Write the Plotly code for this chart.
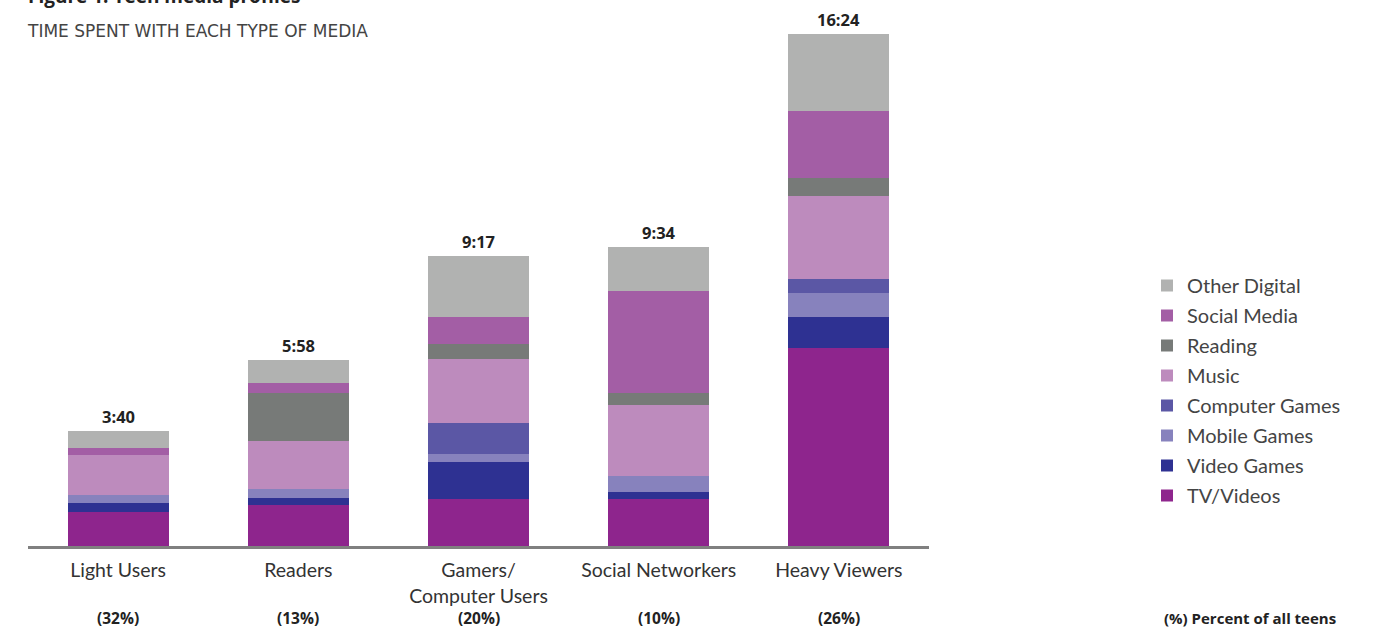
import plotly.graph_objects as go

categories = ["Light Users", "Readers", "Gamers/<br>Computer Users", "Social Networkers", "Heavy Viewers"]
percent_labels = ["(32%)", "(13%)", "(20%)", "(10%)", "(26%)"]

# minutes per day, bottom to top
tv_videos      = [66, 79, 91, 91, 381]
video_games    = [17, 13, 71, 12, 58]
mobile_games   = [15, 17, 15, 31, 46]
computer_games = [0, 0, 60, 0, 27]
music          = [77, 92, 122, 136, 161]
reading        = [0, 92, 29, 23, 33]
social_media   = [13, 20, 51, 197, 129]
other_digital  = [32, 45, 118, 84, 149]

series = [
    ("TV/Videos", tv_videos, "#8E258D"),
    ("Video Games", video_games, "#2E3192"),
    ("Mobile Games", mobile_games, "#8782BD"),
    ("Computer Games", computer_games, "#5B57A5"),
    ("Music", music, "#BD8BBD"),
    ("Reading", reading, "#777A78"),
    ("Social Media", social_media, "#A35EA5"),
    ("Other Digital", other_digital, "#B1B2B1"),
]

FONT = "Lato"
BOLD = "Open Sans"
x_idx = list(range(len(categories)))

fig = go.Figure()
n = len(series)
for k, (name, vals, color) in enumerate(series):
    fig.add_trace(go.Bar(
        x=x_idx, y=vals, name=name, marker=dict(color=color, line=dict(width=0)),
        width=0.56, legendgroup=name, legendrank=n - k, hoverinfo="y+name",
    ))

totals = [sum(s[1][i] for s in series) for i in x_idx]
for i, t in enumerate(totals):
    fig.add_annotation(x=i, y=t, xref="x", yref="y", text=f"<b>{t // 60}:{t % 60:02d}</b>",
                       showarrow=False, yanchor="bottom", yshift=1,
                       font=dict(family=BOLD, size=16.5, color="#222222"))
    fig.add_annotation(x=i, y=-0.136, xref="x", yref="paper", text=f"<b>{percent_labels[i]}</b>",
                       showarrow=False, yanchor="middle",
                       font=dict(family=BOLD, size=15.5, color="#222222"))

fig.add_annotation(x=1.0 + (1338 - 929) / 901, y=-0.136, xref="paper", yref="paper",
                   text="<b>(%) Percent of all teens</b>", showarrow=False,
                   xanchor="right", yanchor="middle",
                   font=dict(family=BOLD, size=15, color="#222222"))

fig.add_annotation(x=0, y=1.045, xref="paper", yref="paper",
                   text="<b>Figure 1: Teen media profiles</b>", showarrow=False,
                   xanchor="left", yanchor="middle", xshift=-2,
                   font=dict(family=BOLD, size=19, color="#222222"))
fig.add_annotation(x=0, y=0.979, xref="paper", yref="paper",
                   text="TIME SPENT WITH EACH TYPE OF MEDIA", showarrow=False,
                   xanchor="left", yanchor="middle", xshift=-3,
                   font=dict(family="DejaVu Sans", size=17, color="#444444"))

fig.update_layout(
    width=1386, height=628,
    margin=dict(l=28, r=457, t=20, b=82),
    barmode="stack",
    bargap=0,
    plot_bgcolor="white", paper_bgcolor="white",
    font=dict(family=FONT, color="#333333"),
    showlegend=True,
    legend=dict(
        traceorder="grouped", tracegroupgap=1,
        x=(1147 - 28) / 901, xanchor="left",
        y=(546 - 266) / 526, yanchor="top",
        font=dict(family=FONT, size=20, color="#444444"),
        bgcolor="rgba(0,0,0,0)",
    ),
    xaxis=dict(
        tickvals=x_idx, ticktext=categories, range=[-0.5, 4.5],
        showgrid=False, zeroline=False, showline=True, linecolor="#808080", linewidth=2.5,
        ticks="", tickfont=dict(family=FONT, size=19.5, color="#333333"),
        ticklabelstandoff=5,
        fixedrange=True,
    ),
    yaxis=dict(
        range=[0, 526 / 0.5208], visible=False, showgrid=False, zeroline=False,
        fixedrange=True,
    ),
)

fig.write_html("out.html", config={"displayModeBar": False},
               post_script="document.body.style.margin='0';")
